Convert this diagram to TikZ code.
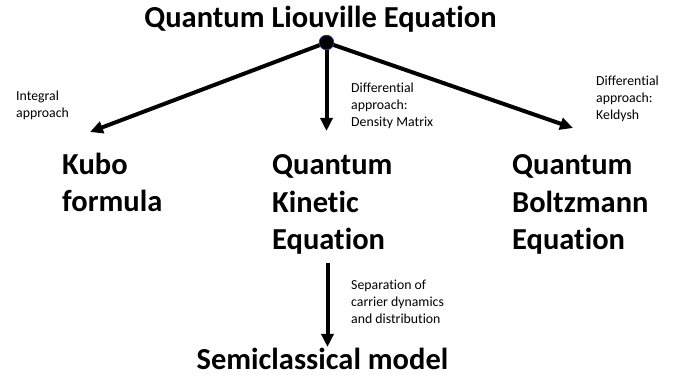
\documentclass[tikz,border=0pt]{standalone}
\usepackage{fontspec}
\setmainfont{Carlito}[Ligatures={NoCommon}]
\usetikzlibrary{arrows.meta}
\definecolor{dotedge}{RGB}{40,60,120}
\begin{document}
\begin{tikzpicture}[x=1pt,y=-1pt,
  big/.style={font=\bfseries\fontsize{30.5}{37.5}\selectfont, inner sep=0pt, align=left},
  small/.style={font=\fontsize{13.8}{17}\selectfont, inner sep=0pt, align=left},
  arr/.style={line width=4pt, -{Triangle[width=12pt,length=13pt]}}]
\useasboundingbox (0,0) rectangle (678,379);
\node[big, anchor=base] (title) at (320.5,28) {Quantum Liouville Equation};
\node[big, anchor=base west] (kubo) at (62,212) {Kubo\\formula};
\node[big, anchor=base west] (qke) at (272,250) {Quantum\\Kinetic\\Equation};
\node[big, anchor=base west] (qbe) at (512,250) {Quantum\\Boltzmann\\Equation};
\node[big, anchor=base] (semi) at (322.5,370) {Semiclassical model};
\node[small, anchor=base west] (lint) at (16,118) {Integral\\approach};
\node[small, anchor=base west] (ldm) at (351,127) {Differential\\approach:\\Density Matrix};
\node[small, anchor=base west] (lkel) at (596,120) {Differential\\approach:\\Keldysh};
\node[small, anchor=base west] (lsep) at (351,324) {Separation of\\carrier dynamics\\and distribution};
\coordinate (tipL) at (90,132);
\coordinate (tipM) at (326.5,131);
\coordinate (tipR) at (573,128);
\coordinate (startB) at (327.5,263);
\coordinate (tipB) at (327.5,347);
\node[circle, minimum size=14.6pt, inner sep=0pt] (dot) at (326.5,42.5) {};
\draw[arr] (dot.center) -- (tipL);
\draw[arr] (dot.center) -- (tipM);
\draw[arr] (dot.center) -- (tipR);
\draw[arr] (startB) -- (tipB);
\node[circle, fill=black, draw=dotedge, line width=0.8pt, minimum size=14.6pt, inner sep=0pt] at (dot) {};
\end{tikzpicture}
\end{document}
